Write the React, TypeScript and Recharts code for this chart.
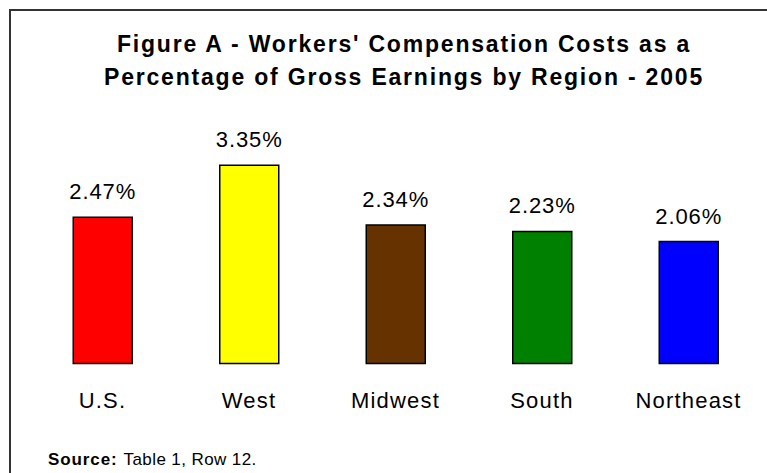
import { Bar, BarChart, Cell, LabelList, XAxis, YAxis } from "recharts";

const regions = ["U.S.", "West", "Midwest", "South", "Northeast"];
const costPct = [2.47, 3.35, 2.34, 2.23, 2.06];
const barColors = ["#ff0000", "#ffff00", "#663300", "#008000", "#0000ff"];
const titleLines = [
  "Figure A - Workers' Compensation Costs as a",
  "Percentage of Gross Earnings by Region - 2005",
];

const data = regions.map((region, i) => ({ region, pct: costPct[i] }));

const FONT = '"Liberation Sans", Arial, sans-serif';

function RegionTick({ x, y, payload }: any) {
  return (
    <text x={x} y={y + 44} textAnchor="middle" fontFamily={FONT} fontSize={22} letterSpacing={1.2} fill="#000">
      {payload.value}
    </text>
  );
}

function PctLabel({ x, y, width, value }: any) {
  return (
    <text x={x + width / 2} y={y - 18} textAnchor="middle" fontFamily={FONT} fontSize={22} letterSpacing={0.9} fill="#000">
      {`${Number(value).toFixed(2)}%`}
    </text>
  );
}

export default function App() {
  return (
    <div style={{ position: "absolute", left: 0, top: 0, width: 767, height: 473, overflow: "hidden", background: "#fff" }}>
      <div
        style={{
          position: "absolute",
          left: 9,
          top: 9,
          width: 800,
          height: 500,
          borderTop: "2px solid #333",
          borderLeft: "2px solid #333",
        }}
      />
      <svg width={767} height={120} style={{ position: "absolute", left: 0, top: 0 }}>
        {titleLines.map((line, i) => (
          <text
            key={line}
            x={404}
            y={52 + i * 33}
            textAnchor="middle"
            fontFamily={FONT}
            fontWeight="bold"
            fontSize={23}
            letterSpacing={1.8}
            fill="#000"
          >
            {line}
          </text>
        ))}
      </svg>
      <div style={{ position: "absolute", left: 0, top: 0 }}>
        <BarChart width={767} height={473} data={data} margin={{ top: 126.7, right: 5.25, bottom: 59.5, left: 29.25 }}>
          <XAxis
            dataKey="region"
            axisLine={false}
            tickLine={false}
            tickSize={0}
            tickMargin={0}
            height={50}
            interval={0}
            tick={<RegionTick />}
          />
          <YAxis hide domain={[0, 4]} />
          <Bar dataKey="pct" barSize={59} stroke="#000" strokeWidth={1.5} isAnimationActive={false}>
            {data.map((d, i) => (
              <Cell key={d.region} fill={barColors[i]} />
            ))}
            <LabelList dataKey="pct" content={<PctLabel />} />
          </Bar>
        </BarChart>
      </div>
      <svg width={767} height={473} style={{ position: "absolute", left: 0, top: 0, pointerEvents: "none" }}>
        <text x={48} y={465} fontFamily={FONT} fontSize={17} fill="#000">
          <tspan fontWeight="bold" letterSpacing={0.9}>Source:</tspan>
          <tspan dx={6} letterSpacing={0.4}>Table 1, Row 12.</tspan>
        </text>
      </svg>
    </div>
  );
}
